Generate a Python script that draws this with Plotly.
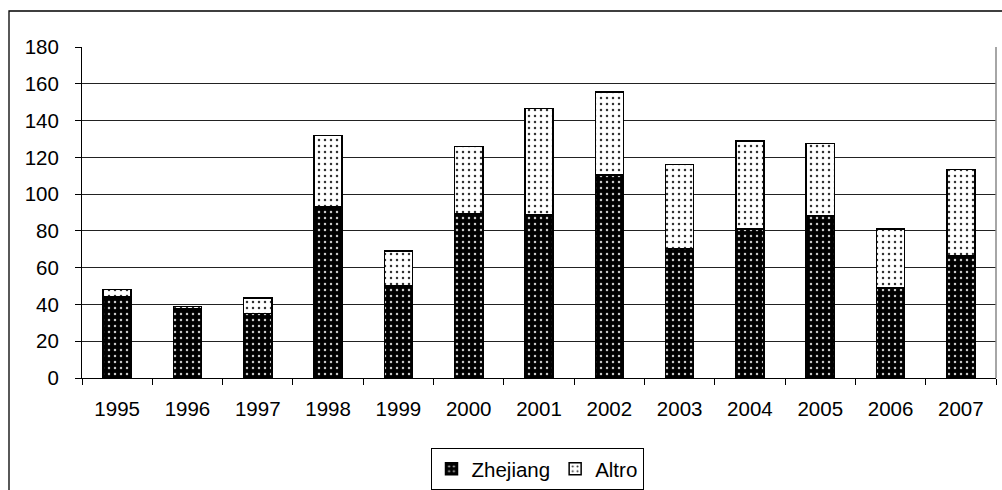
import plotly.graph_objects as go

years = ["1995", "1996", "1997", "1998", "1999", "2000", "2001",
         "2002", "2003", "2004", "2005", "2006", "2007"]
zhejiang = [44, 37.5, 35, 93, 50, 89.5, 89, 110.5, 70.5, 81, 88.5, 49, 66.5]
altro = [4, 1.5, 8.5, 39, 19, 36.5, 57.5, 45, 45.5, 48, 39, 32, 47]
y_ticks = [0, 20, 40, 60, 80, 100, 120, 140, 160, 180]

W, H = 1002, 490
ML, MR, MT, MB = 82, 6, 47, 112
PW, PH = W - ML - MR, H - MT - MB


def px_x(p):
    return (p - ML) / PW


def px_y(p):
    return (H - MB - p) / PH


font = dict(family="Liberation Sans, Arial, sans-serif", size=20.5, color="black")

fig = go.Figure()
fig.add_trace(go.Bar(
    x=years, y=zhejiang, name="Zhejiang",
    marker=dict(
        color="black",
        line=dict(color="black", width=1.5),
        pattern=dict(shape=".", bgcolor="black", fgcolor="#c8c8c8",
                     size=6, solidity=0.14, fillmode="replace"),
    ),
))
fig.add_trace(go.Bar(
    x=years, y=altro, name="Altro",
    marker=dict(
        color="white",
        line=dict(color="black", width=1.5),
        pattern=dict(shape=".", bgcolor="white", fgcolor="#333333",
                     size=6, solidity=0.14, fillmode="replace"),
    ),
))

fig.update_layout(
    width=W, height=H,
    margin=dict(l=ML, r=MR, t=MT, b=MB, autoexpand=False),
    barmode="stack", bargap=0.6,
    paper_bgcolor="white", plot_bgcolor="white",
    font=font,
    showlegend=True,
    legend=dict(
        orientation="h", x=px_x(537), xanchor="center",
        y=px_y(448), yanchor="top", traceorder="normal",
        bordercolor="black", borderwidth=1, bgcolor="white",
        font=font, itemwidth=30, tracegroupgap=0,
    ),
    xaxis=dict(
        type="category", range=[-0.5, 12.5],
        showline=True, linecolor="black", linewidth=1,
        ticks="outside", tickson="boundaries", ticklen=6,
        tickcolor="black", showgrid=False, ticklabelstandoff=12,
    ),
    yaxis=dict(
        range=[0, 180], tickvals=y_ticks,
        showline=True, linecolor="black", linewidth=1,
        ticks="outside", ticklen=6, tickcolor="black",
        showgrid=True, gridcolor="#222222", gridwidth=1,
        zeroline=False, ticklabelstandoff=12,
    ),
    shapes=[
        # outer chart frame
        dict(type="rect", xref="paper", yref="paper",
             x0=px_x(9), x1=px_x(1010), y0=px_y(11), y1=px_y(500),
             line=dict(color="black", width=1.3), layer="above"),
        # plot area right border
        dict(type="line", xref="paper", yref="paper",
             x0=1, x1=1, y0=0, y1=1,
             line=dict(color="#888888", width=1.5), layer="above"),
    ],
)

fig.write_html("out.html")
